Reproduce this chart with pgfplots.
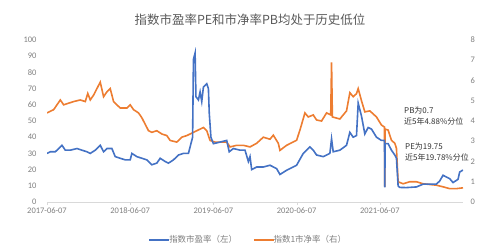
\documentclass[border=0pt]{standalone}
\usepackage{pgfplots}
\pgfplotsset{compat=1.18}
\usepackage{fontspec}
\setmainfont{Carlito}
\newfontfamily\cjk{Noto Sans CJK SC}
\definecolor{peblue}{HTML}{4472C4}
\definecolor{pborange}{HTML}{ED7D31}
\definecolor{txtgray}{HTML}{7F7F7F}
\definecolor{titlegray}{HTML}{595959}
\definecolor{axgray}{HTML}{D9D9D9}

\pgfplotstableread{
x y
0.00 30
0.04 31
0.10 31
0.16 34
0.18 35
0.22 32
0.28 32
0.36 33
0.42 32
0.48 31
0.52 30
0.58 32
0.64 35
0.68 31
0.72 33
0.78 33
0.82 28
0.88 27
0.94 26
1.00 26
1.02 30
1.08 28
1.14 27
1.20 26
1.26 23
1.32 24
1.36 27
1.42 25
1.46 24
1.52 26
1.58 29
1.64 30
1.70 30
1.73 36
1.75 40
1.76 88
1.78 92
1.79 65
1.82 63
1.84 68
1.86 62
1.88 71
1.92 73
1.94 70
1.95 55
1.97 40
2.00 36
2.08 37
2.16 38
2.19 31
2.24 33
2.32 32
2.38 32
2.42 25
2.44 28
2.46 20
2.52 21.6
2.60 21.6
2.68 22.7
2.76 20.6
2.80 17
2.88 19.6
3.00 22.7
3.08 30
3.16 34
3.20 32
3.24 29
3.32 28
3.40 30
3.42 39
3.44 31
3.52 32
3.60 35
3.64 43
3.68 40
3.72 41
3.74 61
3.78 53
3.82 42
3.86 46
3.90 45
3.96 40
4.02 38
4.056 38
4.06 9
4.064 36
4.10 36
4.14 32
4.18 29
4.20 27
4.22 10
4.24 9
4.32 8.9
4.44 9.3
4.52 11
4.68 11
4.72 13
4.76 16.5
4.84 14.4
4.88 12
4.94 14
4.96 18.5
5.00 19.75
}\petable

\pgfplotstableread{
x y
0.00 4.40
0.04 4.48
0.08 4.56
0.12 4.80
0.16 5.04
0.20 4.80
0.26 4.88
0.32 4.96
0.40 5.04
0.46 4.96
0.49 5.36
0.52 5.04
0.56 5.28
0.60 5.60
0.64 5.92
0.68 5.20
0.72 5.44
0.76 5.60
0.80 4.96
0.84 4.80
0.88 4.64
0.96 4.64
1.00 4.80
1.04 4.56
1.10 4.40
1.14 4.16
1.18 3.84
1.22 3.52
1.26 3.44
1.32 3.52
1.38 3.36
1.44 3.28
1.48 3.04
1.56 2.96
1.62 3.20
1.68 3.28
1.76 3.44
1.84 3.60
1.88 3.68
1.92 3.52
1.96 3.04
2.02 2.96
2.10 2.96
2.16 2.96
2.20 2.72
2.28 2.80
2.36 2.80
2.44 2.72
2.52 2.9
2.60 3.2
2.68 3.1
2.72 3.3
2.78 2.9
2.80 2.55
2.88 2.8
3.00 3.05
3.04 3.55
3.10 4.4
3.14 4.2
3.20 4.3
3.24 4.05
3.30 4.0
3.36 4.4
3.41 4.3
3.42 6.9
3.43 4.2
3.52 4.1
3.60 4.5
3.64 5.4
3.68 5.2
3.72 5.35
3.74 5.6
3.78 5.0
3.82 4.45
3.88 4.5
3.96 4.2
4.02 3.8
4.056 3.7
4.06 0.75
4.064 3.6
4.10 3.55
4.14 3.05
4.18 2.9
4.20 2.65
4.22 1.0
4.28 0.9
4.36 1.0
4.44 1.0
4.52 0.9
4.68 0.83
4.76 0.75
4.84 0.66
4.92 0.66
5.00 0.7
}\pbtable

\begin{document}
\begin{tikzpicture}[x=1bp,y=1bp]
\useasboundingbox (0,0) rectangle (500,246);
\pgfplotsset{common/.style={
  scale only axis, width=416bp, height=162bp,
  at={(47bp,44bp)}, anchor=south west,
  xmin=0, xmax=5,
  /pgf/number format/assume math mode=true,
  ticklabel style={font=\fontsize{8.5}{9}\selectfont, text=txtgray},
}}
% right axis: PB (orange)
\begin{axis}[common,
  axis x line=none, axis y line*=right,
  y axis line style={draw=none},
  ymin=0, ymax=8, ytick={0,1,...,8},
  ytick style={draw=none},
  yticklabel style={xshift=4bp},
]
\addplot[pborange, line width=1.6bp] table[x=x,y=y] {\pbtable};
\end{axis}
% left axis: PE (blue)
\begin{axis}[common,
  axis x line*=bottom, axis y line*=left,
  y axis line style={draw=none},
  x axis line style={draw=axgray},
  ymin=0, ymax=100, ytick={0,10,...,100},
  ytick style={draw=none},
  xtick={0,1,2,3,4},
  xticklabels={2017-06-07,2018-06-07,2019-06-07,2020-06-07,2021-06-07},
  xtick style={draw=axgray},
  tick align=outside, major tick length=3bp,
  yticklabel style={xshift=-4bp},
  xticklabel style={yshift=1bp},
  legend style={draw=none, fill=none, at={(0.484,-0.235)}, anchor=center,
    legend columns=2, font=\cjk\fontsize{8.5}{9}\selectfont, text=txtgray,
    /tikz/every even column/.append style={column sep=14bp},
    inner sep=0pt},
  legend image code/.code={\draw[#1] (0bp,0bp) -- (20bp,0bp);},
  legend cell align=left,
]
\addplot[peblue, line width=1.6bp] table[x=x,y=y] {\petable};
\addlegendentry{\hspace{-3bp}指数市盈率（左）}
\addlegendimage{pborange, line width=1.6bp}
\addlegendentry{\hspace{-3bp}指数1市净率（右）}
\end{axis}
\node[font=\cjk\fontsize{12.5}{14}\selectfont, text=titlegray] at (250,226) {指数市盈率PE和市净率PB均处于历史低位};
\node[font=\cjk\fontsize{8}{10}\selectfont, text=black!80, anchor=west, align=left, inner sep=0pt] at (404,130) {PB为0.7\\[1pt]近5年4.88\%分位};
\node[font=\cjk\fontsize{8}{10}\selectfont, text=black!80, anchor=west, align=left, inner sep=0pt] at (405,94) {PE为19.75\\[1pt]近5年19.78\%分位};
\end{tikzpicture}
\end{document}
